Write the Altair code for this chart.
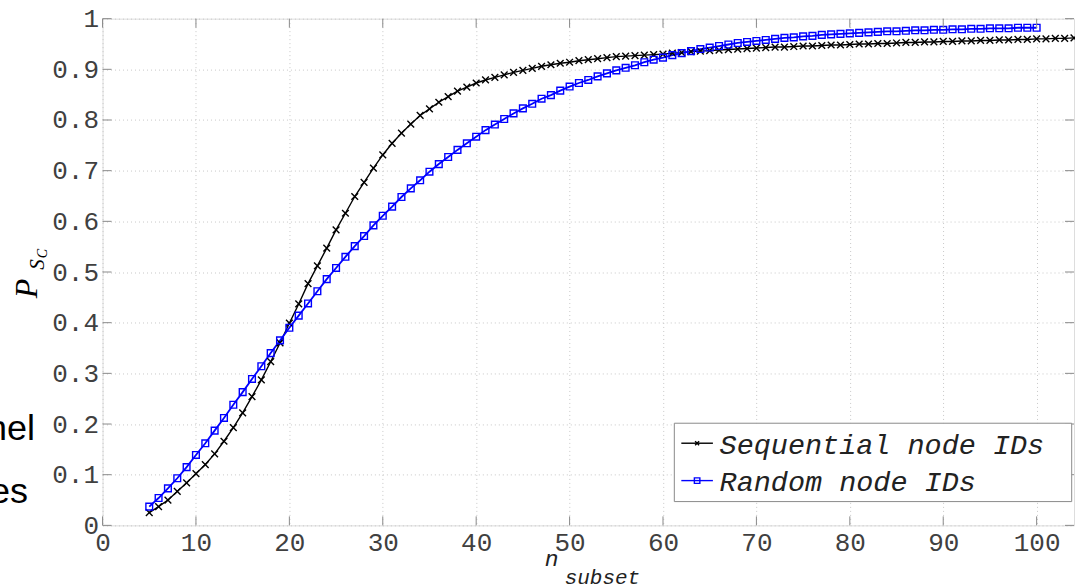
import altair as alt
import pandas as pd

SERIES = ["Sequential node IDs", "Random node IDs"]

SEQ_N = list(range(5, 105))
SEQ_P = [
    0.025, 0.037, 0.050, 0.067, 0.084, 0.102, 0.120, 0.141, 0.166, 0.193,
    0.222, 0.254, 0.287, 0.323, 0.360, 0.399, 0.437, 0.477, 0.512, 0.547,
    0.583, 0.616, 0.649, 0.677, 0.705, 0.731, 0.754, 0.774, 0.792, 0.809,
    0.822, 0.835, 0.846, 0.857, 0.865, 0.873, 0.879, 0.884, 0.889, 0.894,
    0.898, 0.902, 0.906, 0.909, 0.912, 0.914, 0.917, 0.919, 0.921, 0.923,
    0.925, 0.926, 0.927, 0.928, 0.929, 0.930, 0.932, 0.933, 0.935, 0.936,
    0.937, 0.938, 0.939, 0.940, 0.941, 0.942, 0.943, 0.944, 0.944, 0.945,
    0.946, 0.946, 0.947, 0.948, 0.948, 0.949, 0.950, 0.950, 0.951, 0.951,
    0.952, 0.953, 0.953, 0.954, 0.954, 0.955, 0.955, 0.956, 0.956, 0.957,
    0.957, 0.958, 0.958, 0.959, 0.959, 0.960, 0.960, 0.961, 0.961, 0.962,
]

RND_N = list(range(5, 101))
RND_P = [
    0.037, 0.054, 0.073, 0.093, 0.115, 0.139, 0.162, 0.187, 0.212, 0.238,
    0.263, 0.289, 0.314, 0.340, 0.365, 0.390, 0.414, 0.438, 0.462, 0.486,
    0.508, 0.530, 0.551, 0.571, 0.592, 0.611, 0.629, 0.648, 0.665, 0.681,
    0.698, 0.713, 0.727, 0.741, 0.754, 0.767, 0.780, 0.791, 0.802, 0.813,
    0.823, 0.832, 0.842, 0.849, 0.858, 0.866, 0.873, 0.879, 0.886, 0.892,
    0.898, 0.903, 0.908, 0.914, 0.919, 0.923, 0.928, 0.932, 0.936, 0.940,
    0.943, 0.946, 0.949, 0.952, 0.954, 0.956, 0.958, 0.960, 0.962, 0.963,
    0.965, 0.966, 0.968, 0.969, 0.970, 0.971, 0.972, 0.973, 0.974, 0.975,
    0.975, 0.976, 0.977, 0.977, 0.978, 0.978, 0.979, 0.979, 0.980, 0.980,
    0.981, 0.981, 0.981, 0.982, 0.982, 0.982,
]

X_TICKS = [0, 10, 20, 30, 40, 50, 60, 70, 80, 90, 100]
Y_TICKS = [0.0, 0.1, 0.2, 0.3, 0.4, 0.5, 0.6, 0.7, 0.8, 0.9, 1.0]

assert len(SEQ_N) == len(SEQ_P) and len(RND_N) == len(RND_P)

W, H = 972, 507
FRAME = "#8a8a8a"
MONO = "Liberation Mono"
XPATH = "M-1,-1L1,1M-1,1L1,-1"

df = pd.concat([
    pd.DataFrame({"n": SEQ_N, "p": SEQ_P, "series": SERIES[0]}),
    pd.DataFrame({"n": RND_N, "p": RND_P, "series": SERIES[1]}),
])

x_scale = alt.Scale(domain=[0, 104], nice=False, zero=False)
y_scale = alt.Scale(domain=[0, 1], nice=False)
color_scale = alt.Scale(domain=SERIES, range=["#000000", "#0000ff"])
shape_scale = alt.Scale(domain=SERIES, range=[XPATH, "square"])

x_axis = alt.Axis(values=X_TICKS, title=None, ticks=False, domain=False,
                  grid=True, gridDash=[1, 3], gridColor="#c8c8c8",
                  labelFont=MONO, labelFontSize=26, labelColor="#404040",
                  labelPadding=4, labelFlush=False)
y_axis = alt.Axis(values=Y_TICKS, title=None, ticks=False, domain=False,
                  grid=True, gridDash=[1, 3], gridColor="#c8c8c8",
                  labelFont=MONO, labelFontSize=26, labelColor="#404040",
                  labelPadding=4, labelFlush=False,
                  labelExpr="datum.value == 0 || datum.value == 1 ? format(datum.value, 'd') : format(datum.value, '.1f')")

X = alt.X("n:Q", scale=x_scale, axis=x_axis)
Y = alt.Y("p:Q", scale=y_scale, axis=y_axis)

base = alt.Chart(df)
lines = base.mark_line().encode(
    x=X, y=Y,
    color=alt.Color("series:N", scale=color_scale, legend=None),
    strokeWidth=alt.StrokeWidth("series:N", scale=alt.Scale(domain=SERIES, range=[1.4, 1.8]), legend=None),
)
points = base.mark_point(filled=False, size=45, strokeWidth=1.4, opacity=1).encode(
    x=X, y=Y,
    color=alt.Color("series:N", scale=color_scale, legend=None),
    shape=alt.Shape("series:N", scale=shape_scale, legend=None),
)

xt = alt.Chart(pd.DataFrame({"n": X_TICKS}))
yt = alt.Chart(pd.DataFrame({"p": Y_TICKS}))
ticks = [
    xt.mark_rule(color=FRAME).encode(x=X, y=alt.value(H - 9), y2=alt.value(H)),
    xt.mark_rule(color=FRAME).encode(x=X, y=alt.value(0), y2=alt.value(9)),
    yt.mark_rule(color=FRAME).encode(y=Y, x=alt.value(0), x2=alt.value(9)),
    yt.mark_rule(color=FRAME).encode(y=Y, x=alt.value(W - 9), x2=alt.value(W)),
]


def txt(s, x, y, **kw):
    return alt.Chart(pd.DataFrame({"t": [s]})).mark_text(**kw).encode(
        x=alt.value(x), y=alt.value(y), text="t:N")


labels = [
    txt("P", -75.6, 270, font="Liberation Serif", fontStyle="italic", fontSize=32,
        angle=270, align="center", baseline="middle", color="#000"),
    txt("S", -65, 246, font="Liberation Serif", fontStyle="italic", fontSize=21,
        angle=270, align="center", baseline="middle", color="#000"),
    txt("C", -60, 235, font="Liberation Serif", fontStyle="italic", fontSize=14,
        angle=270, align="center", baseline="middle", color="#000"),
    txt("n", 449.4, 547.5, font=MONO, fontStyle="italic", fontSize=23,
        align="center", baseline="alphabetic", color="#222"),
    txt("subset", 462.4, 566, font=MONO, fontStyle="italic", fontSize=21,
        align="left", baseline="alphabetic", color="#222"),
    txt("hel", -67.6, 421.5, font="Liberation Sans", fontSize=36,
        align="right", baseline="alphabetic", color="#000"),
    txt("es", -74.6, 484.5, font="Liberation Sans", fontSize=36,
        align="right", baseline="alphabetic", color="#000"),
]

one = alt.Chart(pd.DataFrame({"k": [0]}))
legend = [
    one.mark_rect(fill="white", stroke=FRAME, strokeWidth=1).encode(
        x=alt.value(572.1), x2=alt.value(969.7), y=alt.value(404.8), y2=alt.value(483.2)),
]
LEG_Y = [424.8, 462.2]
LEG_COL = ["#000000", "#0000ff"]
LEG_SHAPE = [XPATH, "square"]
LEG_SIZE = [16, 30]
for i, s in enumerate(SERIES):
    legend.append(one.mark_rule(color=LEG_COL[i], strokeWidth=1.4).encode(
        x=alt.value(579.1), x2=alt.value(610.7), y=alt.value(LEG_Y[i])))
    legend.append(one.mark_point(shape=LEG_SHAPE[i], size=LEG_SIZE[i], filled=False,
                                 color=LEG_COL[i], strokeWidth=1.4, opacity=1).encode(
        x=alt.value(594.9), y=alt.value(LEG_Y[i])))
    legend.append(txt(s, 617.4, LEG_Y[i] + 10.5, font=MONO, fontStyle="italic", fontSize=28.5,
                      align="left", baseline="alphabetic", color="#222"))

chart = alt.layer(lines, points, *ticks, *labels, *legend).properties(
    width=W, height=H,
    autosize=alt.AutoSizeParams(type="none"),
    padding={"left": 102.6, "top": 18.5, "right": 1, "bottom": 62},
).configure_view(stroke=FRAME, strokeWidth=1.2).configure(background="white")

chart.save("out.html", embed_options={"renderer": "svg", "actions": False})
